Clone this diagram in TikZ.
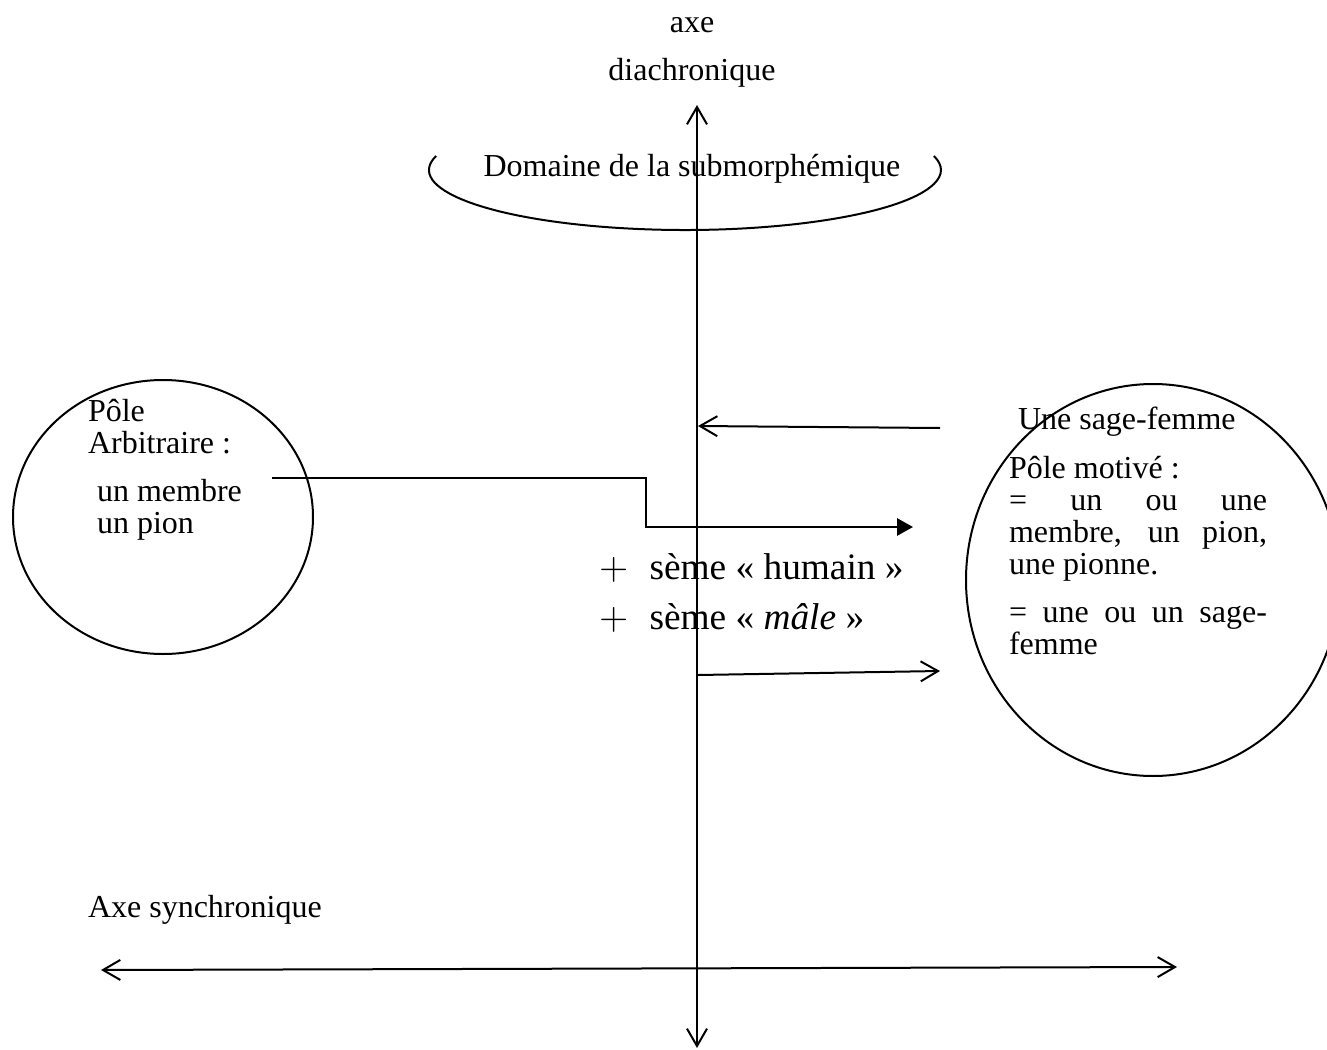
\documentclass[tikz,border=0pt]{standalone}
\usepackage{fontspec}
\setmainfont{Liberation Serif}
\usetikzlibrary{arrows.meta,positioning}
\newcommand{\fullline}[1]{\makebox[96.75pt][s]{#1}}

\begin{document}
\begin{tikzpicture}[x=0.375pt, y=-0.375pt, line width=0.75pt,
  >={Straight Barb[length=6.5pt,width=7.5pt]},
  txt/.style = {inner sep=0pt, font=\fontsize{12}{12}\selectfont, align=left},
  big/.style = {inner sep=0pt, font=\fontsize{14}{18.4}\selectfont, align=left}]
\useasboundingbox (0,0) rectangle (1327,1050);
\clip (0,0) rectangle (1327,1050);

\node[txt, anchor=base] (axe) at (692,32) {axe};
\node[txt, anchor=base] (diachro) at (692,80) {diachronique};
\node[txt, anchor=base] (domaine) at (692,176) {Domaine de la submorphémique};
\node[txt, anchor=base west] (poleA) at (87,453) {Pôle\\Arbitraire :};
\node[txt, anchor=base west] (exA) at (96,533) {un membre\\un pion};
\node[txt, anchor=base west] (sage) at (1017,429) {Une sage-femme};
\node[txt, anchor=base west] (poleM) at (1008,654) {Pôle motivé :\\
  \fullline{= un ou une}\\
  \fullline{membre, un pion,}\\
  une pionne.\\[6pt]
  \fullline{= une ou un sage-}\\
  femme};
\node[big, anchor=base west] (semes) at (598,629) {$+$\hspace{8pt}sème « humain »\\
  $+$\hspace{8pt}sème « \textit{mâle} »};
\node[txt, anchor=base west] (synchro) at (87,917) {Axe synchronique};

\coordinate (vtop) at (697,105);
\coordinate (vbot) at (697,1048);
\coordinate (hl) at (101,970);
\coordinate (hr) at (1177,967);
\coordinate (ellC) at (685,170);
\coordinate (stepA) at (272,478);
\coordinate (knee) at (646,527);
\coordinate (stepB) at (913,527);
\coordinate (inR) at (940,428);
\coordinate (inL) at (698,426);
\coordinate (outL) at (698,675);
\coordinate (outR) at (940,671);

\draw (163,517) ellipse [x radius=150, y radius=137];
\draw (1153,580) ellipse [x radius=187, y radius=196];
\draw (ellC) ++(193.5:256 and 60) arc (193.5:-13.5:256 and 60);

\draw[<->] (vtop) -- (vbot);
\draw[<->] (hl) -- (hr);
\draw[-{Triangle[length=6pt,width=6.5pt]}] (stepA) -| (knee) -- (stepB);
\draw[->] (inR) -- (inL);
\draw[->] (outL) -- (outR);
\end{tikzpicture}
\end{document}
